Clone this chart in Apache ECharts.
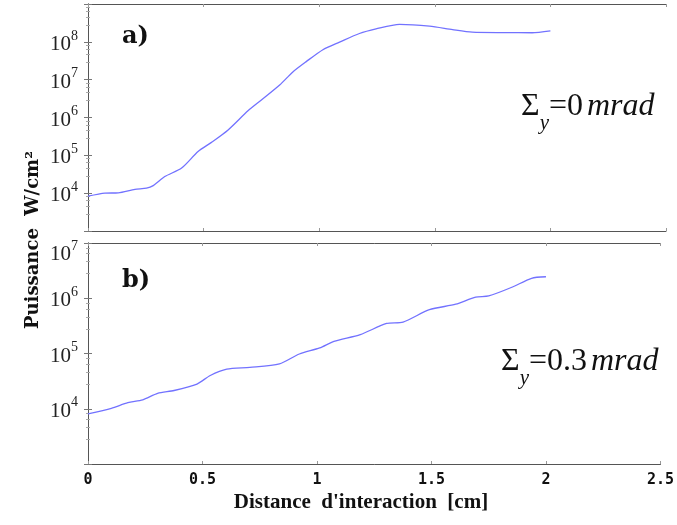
<!DOCTYPE html>
<html><head><meta charset="utf-8">
<script src="https://cdn.jsdelivr.net/npm/echarts@6/dist/echarts.min.js"></script>
<style>html,body{margin:0;padding:0;background:#fff}#c{width:677px;height:525px}</style>
</head><body><div id="c"></div>
<script>
// Panel a) : Sigma_y = 0 mrad
const distA = [0, 0.073, 0.131, 0.203, 0.253, 0.282, 0.332, 0.405, 0.476, 0.534, 0.606, 0.692, 0.750, 0.829, 0.886, 0.944, 1.016, 1.088, 1.174, 1.246, 1.347, 1.477, 1.577, 1.662, 1.80, 1.921, 2.0];
const powerA = [8.3e3, 1.0e4, 1.02e4, 1.26e4, 1.35e4, 1.58e4, 2.75e4, 4.6e4, 1.26e5, 2.2e5, 4.7e5, 1.5e6, 2.9e6, 7.2e6, 1.6e7, 3.0e7, 6.2e7, 9.8e7, 1.66e8, 2.2e8, 2.9e8, 2.6e8, 2.1e8, 1.8e8, 1.75e8, 1.74e8, 1.95e8];
// Panel b) : Sigma_y = 0.3 mrad
const distB = [0, 0.102, 0.174, 0.239, 0.304, 0.376, 0.476, 0.534, 0.606, 0.707, 0.836, 0.923, 1.012, 1.074, 1.189, 1.304, 1.376, 1.491, 1.606, 1.693, 1.75, 1.851, 1.937, 2.0];
const powerB = [8.1e3, 1.02e4, 1.29e4, 1.45e4, 1.9e4, 2.14e4, 2.8e4, 4.0e4, 5.2e4, 5.6e4, 6.5e4, 9.8e4, 1.26e5, 1.66e5, 2.2e5, 3.5e5, 3.7e5, 6.2e5, 7.8e5, 1.05e6, 1.1e6, 1.58e6, 2.3e6, 2.45e6];
// tick labels
const xTickLabels = ['0', '0.5', '1', '1.5', '2', '2.5'];
const yExpA = [4, 5, 6, 7, 8];
const yExpB = [4, 5, 6, 7];

const chart = echarts.init(document.getElementById('c'));
const AX = '#555';
const labRich = {
  b: {fontFamily: 'Liberation Serif', fontSize: 21, color: '#222', verticalAlign: 'bottom', lineHeight: 26},
  s: {fontFamily: 'Liberation Serif', fontSize: 14, color: '#222', verticalAlign: 'top', lineHeight: 26},
  sp: {fontSize: 10, lineHeight: 18}
};
function yFmt(shown, topExp) {
  return function (v) {
    const e = Math.round(Math.log10(v));
    if (shown.indexOf(e) < 0) return '';
    if (e === topExp) return '{sp| }\n{b|10}{s|' + e + '}';
    return '{b|10}{s|' + e + '}';
  };
}
function xAx(grid, pos, showLabel) {
  return {
    type: 'value', gridIndex: grid, position: pos, min: 0, max: 2.5, interval: 0.5,
    axisLine: {show: true, lineStyle: {color: AX, width: 1}},
    axisTick: {show: true, inside: true, length: 3, lineStyle: {color: '#999'}},
    splitLine: {show: false},
    axisLabel: showLabel ? {
      show: true, margin: 9, color: '#111', fontFamily: 'DejaVu Sans Mono', fontWeight: 'bold', fontSize: 15,
      formatter: function (v) { return xTickLabels[Math.round(v / 0.5)]; }
    } : {show: false}
  };
}
function yAx(grid, pos, min, max, shown, topExp) {
  return {
    type: 'log', logBase: 10, gridIndex: grid, position: pos, min: min, max: max,
    axisLine: {show: true, lineStyle: {color: AX, width: 1}},
    axisTick: {show: true, inside: true, length: 4, lineStyle: {color: '#777'}},
    minorTick: {show: true, splitNumber: 5, length: 2, lineStyle: {color: '#aaa'}},
    splitLine: {show: false},
    axisLabel: shown ? {show: true, margin: 10, formatter: yFmt(shown, topExp), rich: labRich} : {show: false}
  };
}

const LH = 54;
const sigRich = {
  g: {fontFamily: 'Liberation Serif', fontWeight: 'normal', fontSize: 32, color: '#111', lineHeight: LH, verticalAlign: 'middle'},
  sub: {fontFamily: 'Liberation Serif', fontWeight: 'normal', fontSize: 21, fontStyle: 'italic', color: '#111', lineHeight: LH, verticalAlign: 'bottom'},
  i: {fontFamily: 'Liberation Serif', fontWeight: 'normal', fontSize: 32, fontStyle: 'italic', color: '#111', lineHeight: LH, verticalAlign: 'middle', padding: [0, 0, 0, 4]}
};

chart.setOption({
  animation: false,
  backgroundColor: '#fff',
  grid: [
    {left: 88, top: 4, width: 578, height: 227},
    {left: 88, top: 243, width: 578, height: 221}
  ],
  xAxis: [xAx(0, 'bottom', false), xAx(0, 'top', false), xAx(1, 'bottom', true), xAx(1, 'top', false)],
  yAxis: [yAx(0, 'left', 1e3, 1e9, yExpA, null), yAx(0, 'right', 1e3, 1e9, null), yAx(1, 'left', 1e3, 1e7, yExpB, 7), yAx(1, 'right', 1e3, 1e7, null)],
  title: [
    {text: 'a)', left: 122, top: 25, padding: 0, textStyle: {fontFamily: 'DejaVu Serif', fontWeight: 'bold', fontSize: 24, color: '#111'}},
    {text: 'b)', left: 122, top: 269, padding: 0, textStyle: {fontFamily: 'DejaVu Serif', fontWeight: 'bold', fontSize: 24, color: '#111'}},
    {text: '{g|Σ}{sub|y}{g|=0}{i|mrad}', left: 521, top: 80, padding: 0, textStyle: {fontWeight: 'normal', rich: sigRich}},
    {text: '{g|Σ}{sub|y}{g|=0.3}{i|mrad}', left: 501, top: 335, padding: 0, textStyle: {fontWeight: 'normal', rich: sigRich}}
  ],
  graphic: [
    {type: 'text', x: 33, y: 240, rotation: Math.PI / 2,
     style: {text: 'Puissance  W/cm²', fontFamily: 'DejaVu Serif', fontWeight: 'bold', fontSize: 18, fill: '#111',
             align: 'center', verticalAlign: 'middle', textAlign: 'center', textVerticalAlign: 'middle'}},
    {type: 'text', x: 361, y: 503,
     style: {text: "Distance  d'interaction  [cm]", fontFamily: 'Liberation Serif', fontWeight: 'bold', fontSize: 21, fill: '#111',
             align: 'center', verticalAlign: 'middle', textAlign: 'center', textVerticalAlign: 'middle'}}
  ],
  series: [
    {type: 'line', xAxisIndex: 0, yAxisIndex: 0, showSymbol: false, smooth: 0.25,
     lineStyle: {color: '#7272ff', width: 1.3}, data: distA.map(function (d, i) { return [d, powerA[i]]; })},
    {type: 'line', xAxisIndex: 2, yAxisIndex: 2, showSymbol: false, smooth: 0.25,
     lineStyle: {color: '#7272ff', width: 1.3}, data: distB.map(function (d, i) { return [d, powerB[i]]; })}
  ]
});
</script>
</body></html>
